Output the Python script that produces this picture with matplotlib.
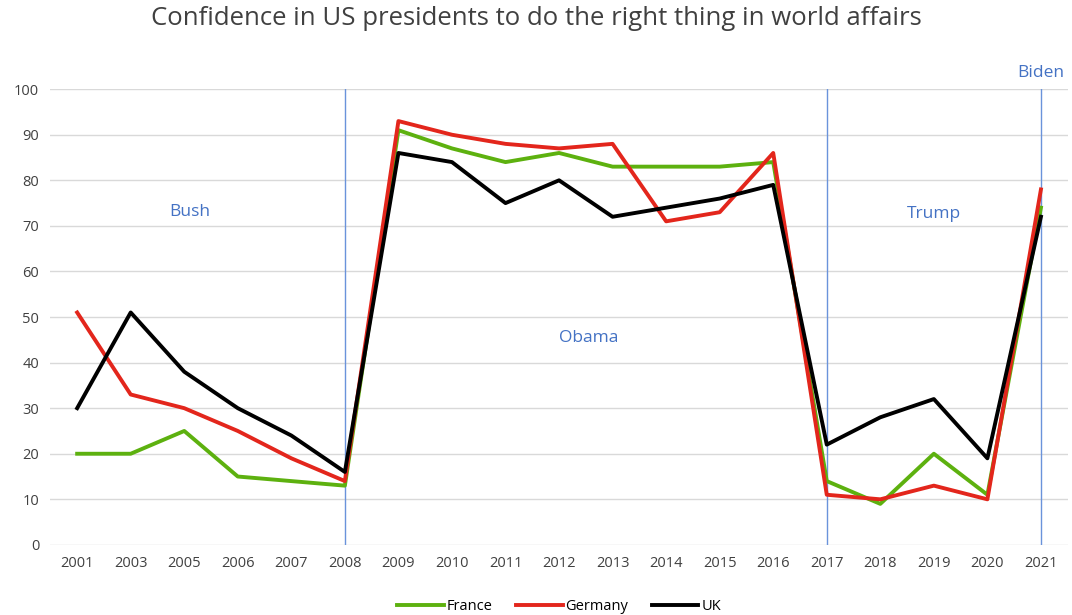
import matplotlib
matplotlib.use("Agg")
import matplotlib.pyplot as plt

# --- Data ---
years = ["2001", "2003", "2005", "2006", "2007", "2008", "2009", "2010", "2011",
         "2012", "2013", "2014", "2015", "2016", "2017", "2018", "2019", "2020", "2021"]
france = [20, 20, 25, 15, 14, 13, 91, 87, 84, 86, 83, 83, 83, 84, 14, 9, 20, 11, 74]
germany = [51, 33, 30, 25, 19, 14, 93, 90, 88, 87, 88, 71, 73, 86, 11, 10, 13, 10, 78]
uk = [30, 51, 38, 30, 24, 16, 86, 84, 75, 80, 72, 74, 76, 79, 22, 28, 32, 19, 72]

# president changes (year where the vertical line sits) and label placement
change_years = ["2008", "2017", "2021"]
presidents = ["Bush", "Obama", "Trump", "Biden"]
president_pos = [(2.1, 73), (9.55, 45.5), (16.0, 72.5), (18.0, 103.5)]

# --- Styling ---
plt.rcParams["font.family"] = ["Open Sans", "DejaVu Sans"]
COLORS = {"France": "#5DB10F", "Germany": "#E3261C", "UK": "#000000"}
BLUE = "#4472C4"

fig, ax = plt.subplots(figsize=(10.72, 6.15), dpi=100)
fig.subplots_adjust(left=0.047, right=0.996, top=0.855, bottom=0.114)

x = list(range(len(years)))
for yr in change_years:
    ax.axvline(years.index(yr), color="#6A93DB", lw=1.0, zorder=1)

for vals, name in ((france, "France"), (germany, "Germany"), (uk, "UK")):
    ax.plot(x, vals, color=COLORS[name], lw=2.8, label=name, zorder=3)

for name, (px, py) in zip(presidents, president_pos):
    ax.text(px, py, name, color=BLUE, fontsize=12.5, ha="center", va="center",
            clip_on=False)

ax.set_xlim(-0.5, len(years) - 0.5)
ax.set_ylim(0, 100)
ax.set_yticks(range(0, 101, 10))
ax.set_xticks(x)
ax.set_xticklabels(years)
ax.tick_params(length=0, labelsize=10.5, colors="#404040", pad=8)
ax.grid(axis="y", color="#D9D9D9", lw=1)
ax.set_axisbelow(True)
for s in ax.spines.values():
    s.set_visible(False)

fig.suptitle("Confidence in US presidents to do the right thing in world affairs",
             fontsize=18.5, color="#404040", y=0.99)

ax.legend(loc="upper center", bbox_to_anchor=(0.5, -0.09), ncol=3, frameon=False,
          fontsize=10.5, handlelength=3.2, handletextpad=0.2, columnspacing=1.6)

fig.savefig("out.png", dpi=100)
